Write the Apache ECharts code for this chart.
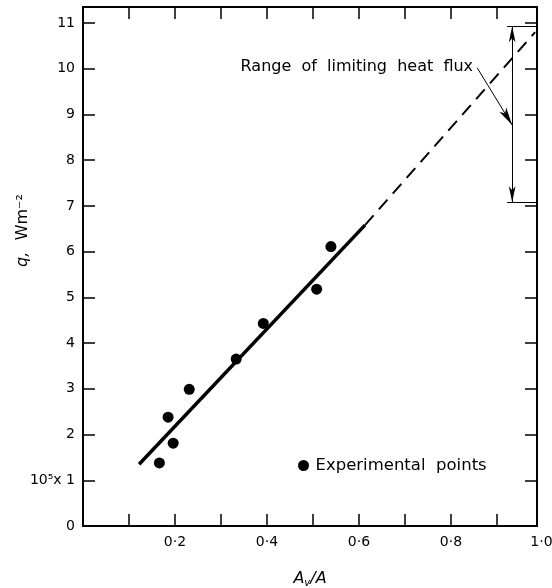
<!DOCTYPE html>
<html><head><meta charset="utf-8">
<script src="https://cdn.jsdelivr.net/npm/echarts@6/dist/echarts.min.js"></script>
<style>html,body{margin:0;padding:0;background:#fff}#c{width:552px;height:588px}</style>
</head><body><div id="c"></div>
<script>
// Experimental points (A_v/A, q in 1e5 W m^-2)
const pointsX = [0.166, 0.185, 0.196, 0.231, 0.333, 0.392, 0.508, 0.539];
const pointsY = [1.38, 2.38, 1.81, 2.99, 3.65, 4.43, 5.18, 6.11];
// fitted line (solid) and extrapolation (dashed)
const fitSolidX = [0.122, 0.613];
const fitSolidY = [1.35, 6.58];
const fitDashX = [0.613, 0.983];
const fitDashY = [6.58, 10.80];
// range of limiting heat flux
const rangeX = 0.933;
const rangeTop = 10.93;
const rangeBottom = 7.08;
const capX = [0.922, 0.987];
const leaderX = [0.857, 0.933];
const leaderY = [10.02, 8.77];
const annotX = 0.848;
const annotY = 10.04;
const annotText = 'Range  of  limiting  heat  flux';
const legendText = 'Experimental  points';
// tick labels
const xTickLabels = {2: '0·2', 4: '0·4', 6: '0·6', 8: '0·8'};
const xEndLabel = '1·0';
const yTickLabels = ['0', '10⁵x 1', '2', '3', '4', '5', '6', '7', '8', '9', '10', '11'];

const X_MAX = 0.987, Y_MAX = 11.35;
const FONT = 'DejaVu Sans';
const frame = {onZero: false, lineStyle: {color: '#000', width: 2}};
const tick = {inside: true, length: 12, lineStyle: {color: '#000', width: 1.5}};

const chart = echarts.init(document.getElementById('c'), null, {renderer: 'canvas'});
chart.setOption({
  animation: false,
  backgroundColor: '#fff',
  textStyle: {fontFamily: FONT, color: '#000'},
  grid: {left: 83, top: 7, right: 15, bottom: 62, containLabel: false, outerBoundsMode: 'none'},
  legend: {
    data: [legendText], left: 293, top: 452, icon: 'circle',
    itemWidth: 14, itemHeight: 11, selectedMode: false,
    textStyle: {fontFamily: FONT, fontSize: 16.5, color: '#000'}
  },
  xAxis: [{
    type: 'value', position: 'bottom', min: 0, max: X_MAX, interval: 0.1,
    axisLine: frame, axisTick: tick, splitLine: {show: false},
    axisLabel: {
      showMaxLabel: true, showMinLabel: true, margin: 9, fontSize: 14, color: '#000', fontFamily: FONT,
      formatter: function (v) {
        if (Math.abs(v - X_MAX) < 1e-6) return '{e|' + xEndLabel + '}';
        const k = Math.round(v * 10);
        if (Math.abs(v * 10 - k) < 1e-6 && xTickLabels[k]) return xTickLabels[k];
        return '';
      },
      rich: {e: {fontSize: 14, fontFamily: FONT, color: '#000', padding: [0, 0, 0, 9]}}
    },
    name: '{a|A}{v|v}{a|/A}', nameLocation: 'middle', nameGap: 43, nameMoveOverlap: false,
    nameTextStyle: {rich: {
      a: {fontSize: 16, fontStyle: 'italic', fontFamily: FONT, color: '#000'},
      v: {fontSize: 10, fontStyle: 'italic', fontFamily: FONT, color: '#000', padding: [9, 0, 0, 0]}
    }}
  }, {
    type: 'value', position: 'top', min: 0, max: X_MAX, interval: 0.1,
    axisLine: frame, axisTick: tick, axisLabel: {show: false}, splitLine: {show: false}
  }],
  yAxis: [{
    type: 'value', position: 'left', min: 0, max: Y_MAX, interval: 1,
    axisLine: frame, axisTick: tick, splitLine: {show: false},
    axisLabel: {
      showMaxLabel: true, margin: 8, fontSize: 14, color: '#000', fontFamily: FONT,
      formatter: function (v) {
        if (Math.abs(v - Math.round(v)) > 1e-6) return '';
        return yTickLabels[Math.round(v)] || '';
      }
    },
    name: '{q|q,}   {w|Wm⁻²}', nameLocation: 'middle', nameRotate: 90, nameGap: 52, nameMoveOverlap: false,
    nameTextStyle: {padding: [0, 0, 0, 72], rich: {
      q: {fontSize: 16, fontStyle: 'italic', fontFamily: FONT, color: '#000'},
      w: {fontSize: 16, fontFamily: FONT, color: '#000'}
    }}
  }, {
    type: 'value', position: 'right', min: 0, max: Y_MAX, interval: 1,
    axisLine: frame, axisTick: tick, axisLabel: {show: false}, splitLine: {show: false}
  }],
  series: [{
    name: 'fit', type: 'line', symbol: 'none', silent: true,
    data: fitSolidX.map((x, i) => [x, fitSolidY[i]]),
    lineStyle: {color: '#000', width: 3.5}
  }, {
    name: 'extrapolation', type: 'line', symbol: 'none', silent: true,
    data: fitDashX.map((x, i) => [x, fitDashY[i]]),
    lineStyle: {color: '#000', width: 2, type: [13, 8]},
    markLine: {
      silent: true, animation: false, label: {show: false},
      lineStyle: {color: '#000', width: 1, type: 'solid', opacity: 1},
      itemStyle: {color: '#000', opacity: 1},
      symbol: ['none', 'none'],
      data: [
        [{coord: [rangeX, rangeTop], symbol: 'arrow', symbolSize: [5, 16]},
         {coord: [rangeX, rangeBottom], symbol: 'arrow', symbolSize: [5, 16]}],
        [{coord: [capX[0], rangeTop]}, {coord: [capX[1], rangeTop]}],
        [{coord: [capX[0], rangeBottom]}, {coord: [capX[1], rangeBottom]}],
        [{coord: [leaderX[0], leaderY[0]], symbol: 'none'},
         {coord: [leaderX[1], leaderY[1]], symbol: 'arrow', symbolSize: [6, 18]}]
      ]
    }
  }, {
    name: 'annotation', type: 'scatter', symbolSize: 0, silent: true,
    itemStyle: {opacity: 1, color: '#000'},
    data: [[annotX, annotY]],
    label: {show: true, position: 'left', distance: 0, formatter: annotText,
      fontSize: 16, fontFamily: FONT, color: '#000', opacity: 1}
  }, {
    name: legendText, type: 'scatter', symbol: 'circle', symbolSize: 11,
    itemStyle: {color: '#000', opacity: 1},
    data: pointsX.map((x, i) => [x, pointsY[i]])
  }]
});
</script>
</body></html>
